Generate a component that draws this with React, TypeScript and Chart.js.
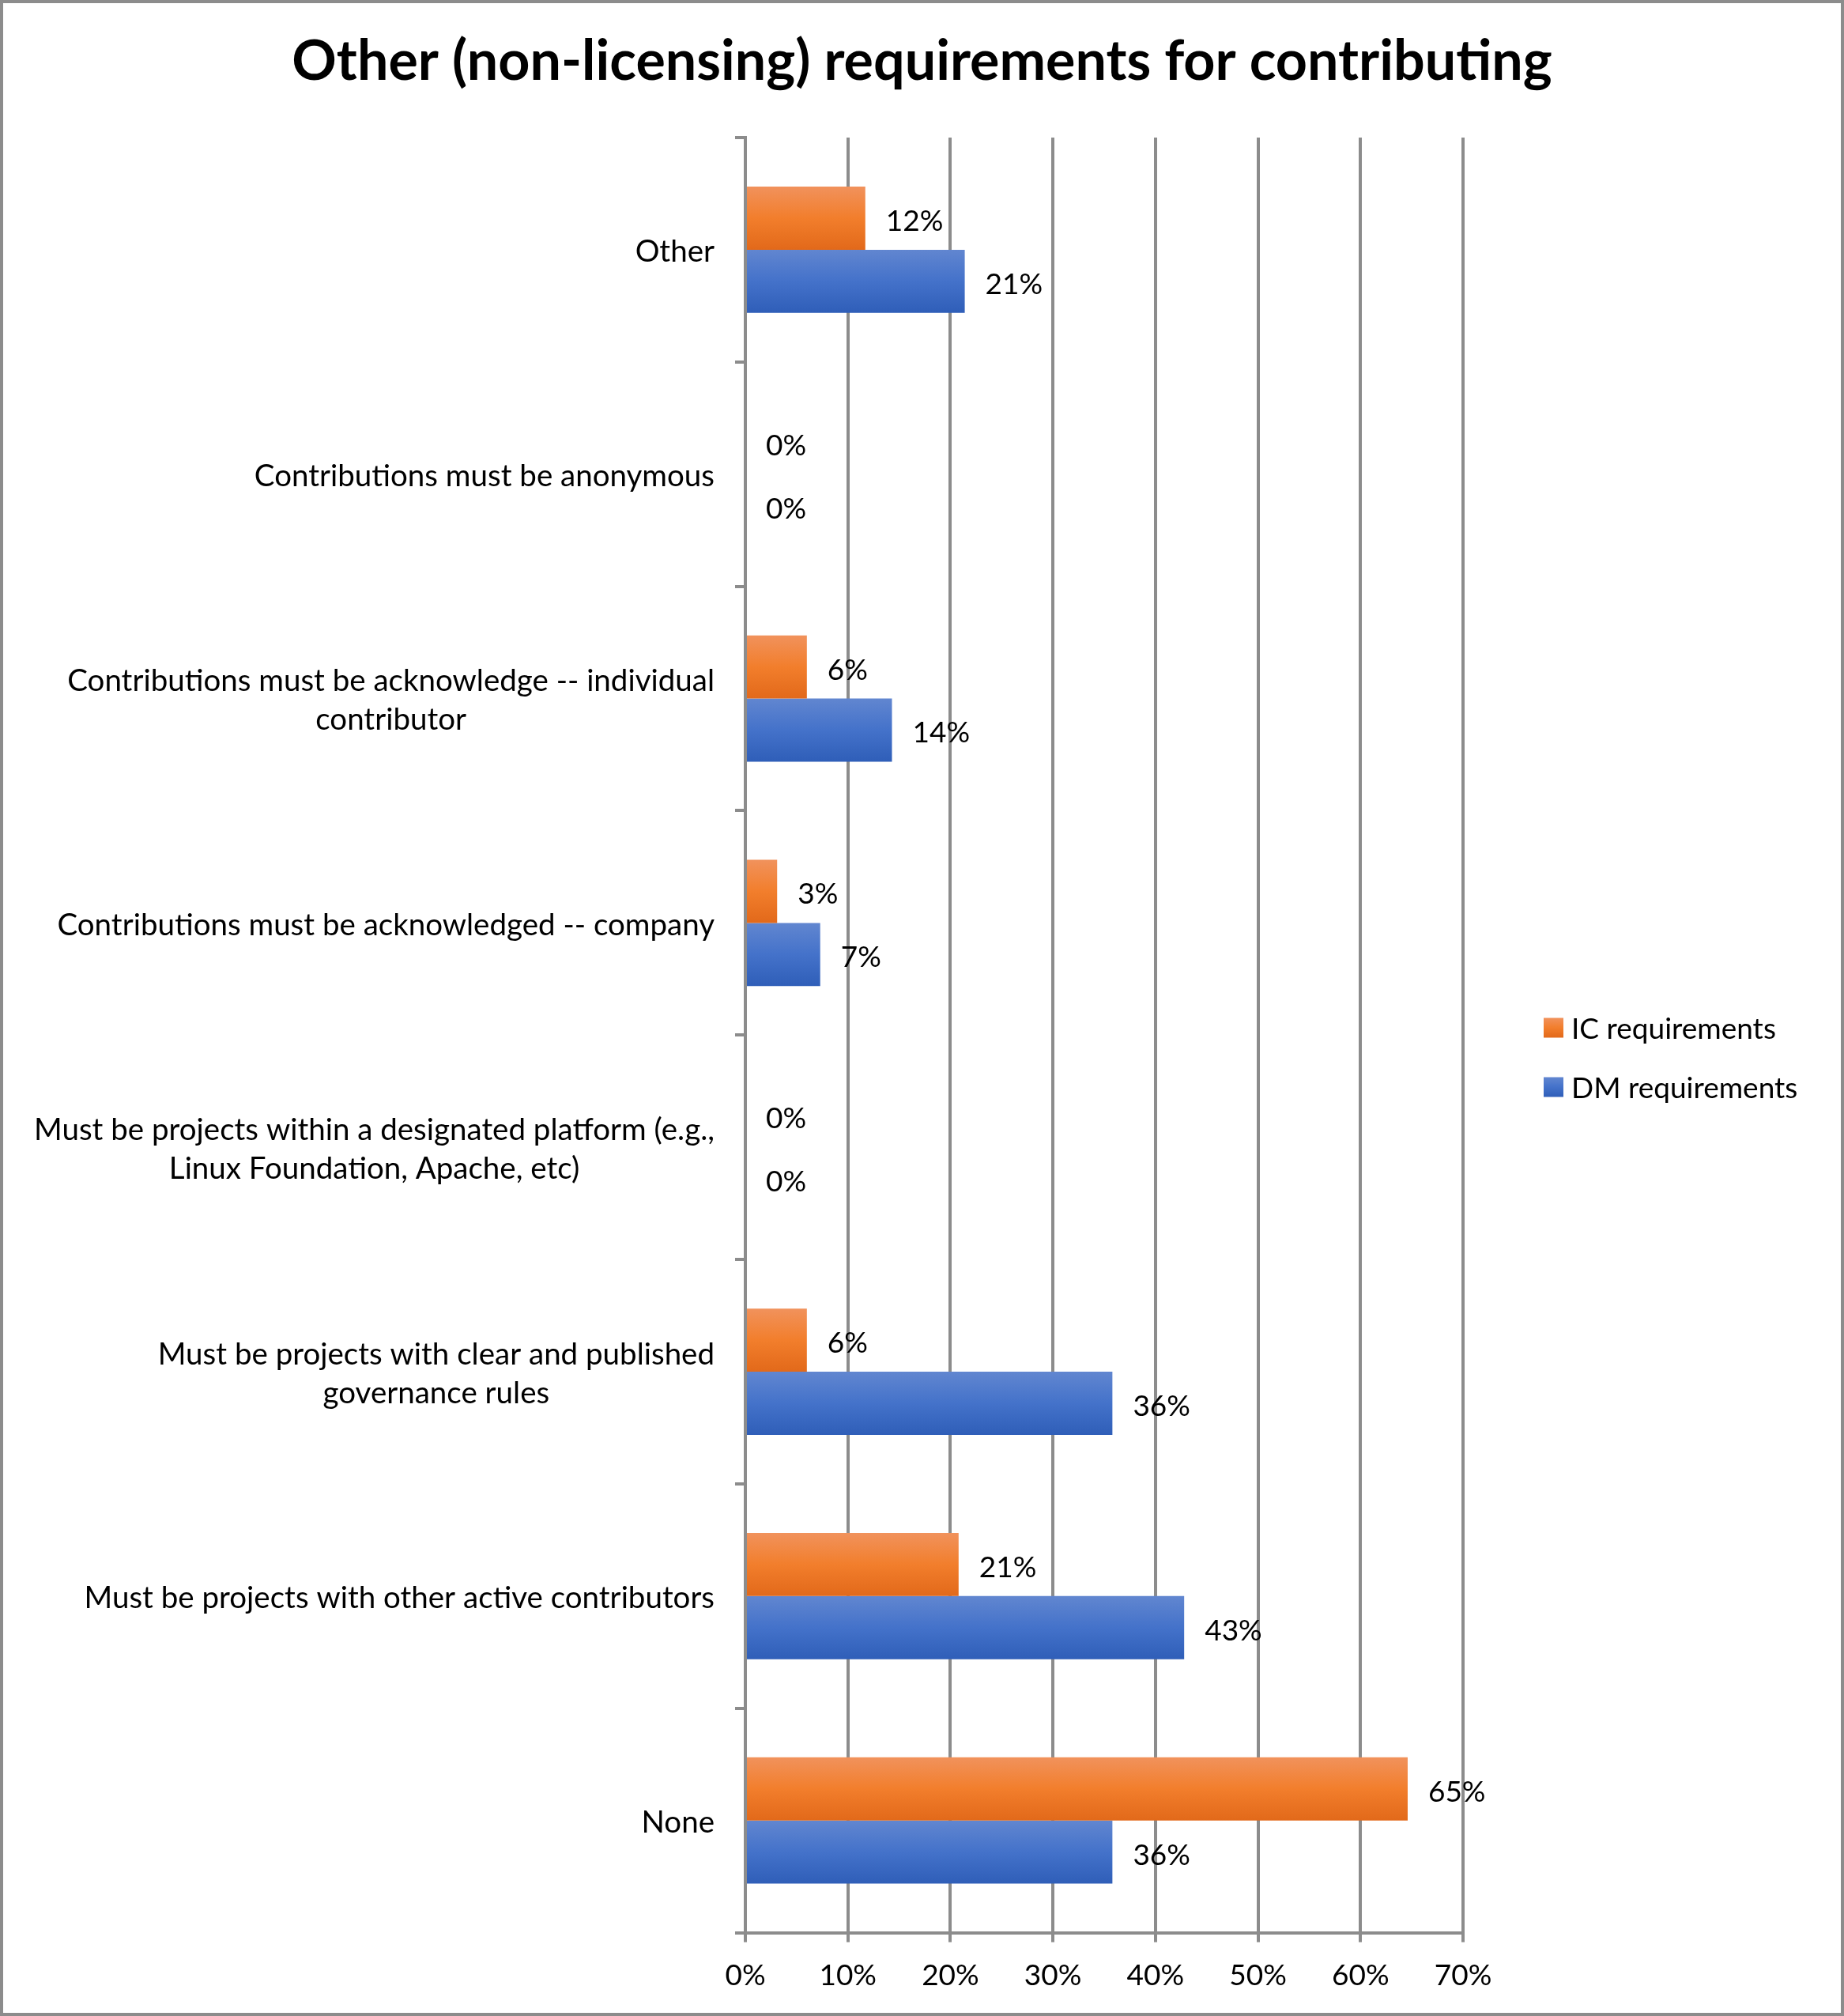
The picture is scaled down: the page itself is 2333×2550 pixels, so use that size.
import React, { useEffect, useRef } from 'react';
import { Chart, registerables } from 'chart.js';

Chart.register(...registerables);

const titleText = 'Other (non-licensing) requirements for contributing';

const categories: string[][] = [
  ['Other'],
  ['Contributions must be anonymous'],
  ['Contributions must be acknowledge -- individual', 'contributor'],
  ['Contributions must be acknowledged -- company'],
  ['Must be projects within a designated platform (e.g.,', 'Linux Foundation, Apache, etc)'],
  ['Must be projects with clear and published', 'governance rules'],
  ['Must be projects with other active contributors'],
  ['None'],
];

const seriesNames = ['IC requirements', 'DM requirements'];
const icValues = [11.7, 0, 6.0, 3.1, 0, 6.0, 20.8, 64.6];
const dmValues = [21.4, 0, 14.3, 7.3, 0, 35.8, 42.8, 35.8];

const xTickLabels = ['0%', '10%', '20%', '30%', '40%', '50%', '60%', '70%'];

const orangeStops = ['#F1925C', '#F27E2C', '#E2691A'];
const blueStops = ['#6186D0', '#4472CA', '#2F5EB8'];
const seriesStops = [orangeStops, blueStops];

const FONT = 'Lato';
const GRID = '#8C8C8C';
const CAT_PCT = 0.563;

const makeFill = (stops: string[]) => (ctx: any) => {
  const chart = ctx.chart;
  const y = chart.scales?.y;
  if (ctx.type !== 'data' || !y || !chart.chartArea) return stops[1];
  const center = y.getPixelForValue(ctx.dataIndex);
  const cat = (y.bottom - y.top) / categories.length;
  const thick = (cat * CAT_PCT) / 2;
  const top = ctx.datasetIndex === 0 ? center - thick : center;
  const g = chart.ctx.createLinearGradient(0, top, 0, top + thick);
  g.addColorStop(0, stops[0]);
  g.addColorStop(0.5, stops[1]);
  g.addColorStop(1, stops[2]);
  return g;
};

const labelPlugin = {
  id: 'customLabels',
  afterDatasetsDraw(chart: any) {
    const { ctx } = chart;
    const y = chart.scales.y;
    ctx.save();
    // data labels
    ctx.font = `37px ${FONT}`;
    ctx.fillStyle = '#000';
    ctx.textAlign = 'left';
    ctx.textBaseline = 'middle';
    chart.data.datasets.forEach((ds: any, di: number) => {
      const meta = chart.getDatasetMeta(di);
      meta.data.forEach((el: any, i: number) => {
        ctx.fillText(`${Math.round(ds.data[i])}%`, el.x + 26, el.y + 4);
      });
    });
    // category labels
    ctx.font = `38.5px ${FONT}`;
    ctx.textAlign = 'center';
    const labelRight = chart.chartArea.left - 39;
    const lh = 49;
    categories.forEach((lines, i) => {
      const cy = y.getPixelForValue(i) + 3;
      const maxW = Math.max(...lines.map((l) => ctx.measureText(l).width));
      const cx = labelRight - maxW / 2;
      lines.forEach((l, k) => {
        ctx.fillText(l, cx, cy + (k - (lines.length - 1) / 2) * lh);
      });
    });
    // legend
    const lx = 1949;
    const rows = [1296, 1371];
    ctx.font = `37px ${FONT}`;
    ctx.textAlign = 'left';
    seriesNames.forEach((name, i) => {
      const cy = rows[i];
      const g = ctx.createLinearGradient(0, cy - 12.5, 0, cy + 12.5);
      g.addColorStop(0, seriesStops[i][0]);
      g.addColorStop(0.5, seriesStops[i][1]);
      g.addColorStop(1, seriesStops[i][2]);
      ctx.fillStyle = g;
      ctx.fillRect(lx, cy - 12.5, 25, 25);
      ctx.fillStyle = '#000';
      ctx.fillText(name, lx + 35, cy + 2);
    });
    ctx.restore();
  },
};

export default function App() {
  const ref = useRef<HTMLCanvasElement | null>(null);
  useEffect(() => {
    if (!ref.current) return;
    const chart = new Chart(ref.current, {
      type: 'bar',
      data: {
        labels: categories,
        datasets: [
          {
            label: seriesNames[0],
            data: icValues,
            xAxisID: 'x',
            yAxisID: 'y',
            backgroundColor: makeFill(orangeStops),
            borderWidth: 0,
            categoryPercentage: CAT_PCT,
            barPercentage: 1,
          },
          {
            label: seriesNames[1],
            data: dmValues,
            xAxisID: 'x',
            yAxisID: 'y',
            backgroundColor: makeFill(blueStops),
            borderWidth: 0,
            categoryPercentage: CAT_PCT,
            barPercentage: 1,
          },
        ],
      },
      options: {
        indexAxis: 'y',
        animation: false,
        responsive: true,
        maintainAspectRatio: false,
        devicePixelRatio: 1,
        layout: { padding: { left: 0, right: 0, top: 0, bottom: 5 } },
        plugins: {
          legend: { display: false },
          tooltip: { enabled: false },
          title: {
            display: true,
            text: titleText,
            color: '#000',
            font: { family: FONT, size: 70, weight: 'bold' },
            padding: { top: 32, bottom: 54 },
          },
        },
        scales: {
          x: {
            min: 0,
            max: 70,
            ticks: {
              stepSize: 10,
              color: '#000',
              font: { family: FONT, size: 37 },
              padding: 20,
              callback: (_v: any, i: number) => xTickLabels[i],
            },
            grid: { color: GRID, lineWidth: 4, tickLength: 12, drawTicks: true },
            border: { display: true, color: GRID, width: 4 },
          },
          y: {
            ticks: { display: false },
            grid: { drawOnChartArea: false, drawTicks: true, tickLength: 13, color: GRID, lineWidth: 4 },
            border: { display: true, color: GRID, width: 4 },
            afterFit: (scale: any) => {
              scale.width = 939;
            },
          },
          legendSpace: {
            type: 'linear',
            position: 'right',
            display: true,
            grid: { display: false },
            border: { display: false },
            ticks: { display: false },
            afterFit: (scale: any) => {
              scale.width = 478;
            },
          },
        },
      } as any,
      plugins: [labelPlugin],
    });
    (document as any).fonts?.load?.(`38px ${FONT}`).then(() => chart.update()).catch(() => {});
    return () => chart.destroy();
  }, []);
  return (
    <div
      style={{
        position: 'absolute',
        left: 0,
        top: 0,
        width: 2333,
        height: 2550,
        boxSizing: 'border-box',
        border: `4px solid ${GRID}`,
        background: '#fff',
      }}
    >
      <div style={{ position: 'relative', width: 2325, height: 2542 }}>
        <canvas ref={ref} />
      </div>
    </div>
  );
}
